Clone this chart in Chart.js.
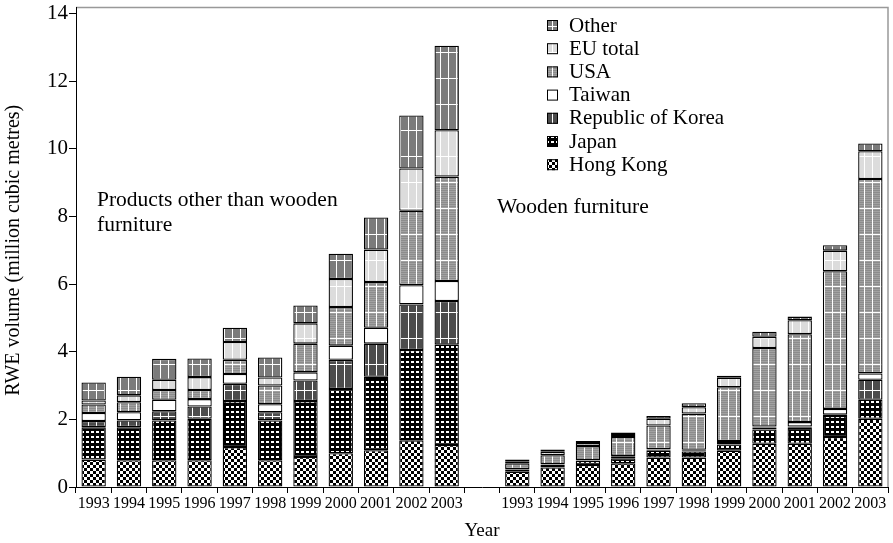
<!DOCTYPE html>
<html>
<head>
<meta charset="utf-8">
<script src="https://cdn.jsdelivr.net/npm/chart.js@4"></script>
<style>
  body { margin: 0; background: #fff; }
</style>
</head>
<body>
<canvas id="rwe" width="893" height="543"></canvas>
<script>
// years shown under each of the two groups
const years = ['1993', '1994', '1995', '1996', '1997', '1998', '1999', '2000', '2001', '2002', '2003'];

// products other than wooden furniture (million m3 RWE)
const hongKongOther = [0.81, 0.79, 0.79, 0.79, 1.18, 0.79, 0.89, 1.00, 1.09, 1.38, 1.24];
const japanOther    = [0.96, 0.98, 1.18, 1.23, 1.36, 1.18, 1.65, 1.90, 2.17, 2.67, 2.97];
const koreaOther    = [0.18, 0.20, 0.27, 0.36, 0.51, 0.24, 0.61, 0.86, 0.98, 1.35, 1.29];
const taiwanOther   = [0.24, 0.24, 0.34, 0.22, 0.29, 0.24, 0.24, 0.42, 0.47, 0.57, 0.59];
const usaOther      = [0.25, 0.30, 0.29, 0.27, 0.42, 0.55, 0.85, 1.14, 1.35, 2.20, 3.09];
const euOther       = [0.12, 0.20, 0.30, 0.38, 0.53, 0.24, 0.60, 0.83, 0.96, 1.25, 1.37];
const restOther     = [0.53, 0.55, 0.62, 0.55, 0.42, 0.59, 0.53, 0.75, 0.95, 1.57, 2.50];

// wooden furniture
const hongKongWood = [0.45, 0.58, 0.65, 0.70, 0.87, 0.87, 1.07, 1.28, 1.28, 1.48, 2.02];
const japanWood    = [0.05, 0.07, 0.12, 0.15, 0.20, 0.18, 0.19, 0.42, 0.47, 0.62, 0.56];
const koreaWood    = [0.02, 0.01, 0.01, 0.06, 0.04, 0.04, 0.07, 0.06, 0.04, 0.04, 0.59];
const taiwanWood   = [0.01, 0.01, 0.01, 0.01, 0.01, 0.01, 0.03, 0.03, 0.13, 0.17, 0.19];
const usaWood      = [0.17, 0.27, 0.42, 0.56, 0.70, 1.07, 1.59, 2.32, 2.60, 4.07, 5.75];
const euWood       = [0.06, 0.10, 0.09, 0.06, 0.20, 0.19, 0.28, 0.33, 0.41, 0.61, 0.82];
const restWood     = [0.05, 0.07, 0.06, 0.07, 0.08, 0.12, 0.06, 0.15, 0.11, 0.16, 0.23];

const yTicks = [0, 2, 4, 6, 8, 10, 12, 14];

const labels = [...years, '', ...years];
const join = (a, b) => [...a, null, ...b];

// fill patterns
function tile(w, h, draw) {
    const c = document.createElement('canvas');
    c.width = w; c.height = h;
    const g = c.getContext('2d');
    draw(g);
    return g.createPattern(c, 'repeat');
}
function grid(base, stripe) {
    return tile(8, 26, g => {
        g.fillStyle = base; g.fillRect(0, 0, 8, 26);
        if (stripe) {
            g.fillStyle = stripe;
            for (let y = 0; y < 26; y += 2) g.fillRect(0, y, 8, 1);
        }
        g.fillStyle = '#fff';
        g.fillRect(0, 0, 1, 26);
        g.fillRect(0, 0, 8, 1);
    });
}
const patOther = grid('#7b7b7b');
const patEU = grid('#dcdcdc');
const patUSA = grid('#a2a2a2', '#8c8c8c');
const patTaiwan = '#ffffff';
const patKorea = grid('#4c4c4c');
const patJapan = tile(5, 5, g => {
    g.fillStyle = '#000'; g.fillRect(0, 0, 5, 5);
    g.fillStyle = '#fff'; g.fillRect(1, 1, 3, 2);
});
const patHK = tile(6, 6, g => {
    g.fillStyle = '#fff'; g.fillRect(0, 0, 6, 6);
    g.fillStyle = '#000'; g.fillRect(0, 0, 3, 3); g.fillRect(3, 3, 3, 3);
});

function series(label, a, b, fill) {
    return {
        label: label,
        data: join(a, b),
        backgroundColor: fill,
        borderColor: '#000',
        borderWidth: 1.3,
        borderSkipped: false,
        barPercentage: 0.69,
        categoryPercentage: 1
    };
}

const datasets = [
    series('Hong Kong', hongKongOther, hongKongWood, patHK),
    series('Japan', japanOther, japanWood, patJapan),
    series('Republic of Korea', koreaOther, koreaWood, patKorea),
    series('Taiwan', taiwanOther, taiwanWood, patTaiwan),
    series('USA', usaOther, usaWood, patUSA),
    series('EU total', euOther, euWood, patEU),
    series('Other', restOther, restWood, patOther)
];

const serif = "'Liberation Serif', 'DejaVu Serif', serif";

// frame, legend and group captions
const extras = {
    id: 'extras',
    afterDraw(chart) {
        const ctx = chart.ctx;
        const a = chart.chartArea;
        ctx.save();
        ctx.strokeStyle = '#999';
        ctx.lineWidth = 1.5;
        ctx.beginPath();
        ctx.moveTo(a.left, 7.5);
        ctx.lineTo(a.right, 7.5);
        ctx.lineTo(a.right, a.bottom);
        ctx.stroke();
        ctx.strokeStyle = '#000';
        ctx.lineWidth = 1;
        ctx.beginPath();
        ctx.moveTo(a.left + 0.5, 7);
        ctx.lineTo(a.left + 0.5, a.top);
        ctx.stroke();

        ctx.font = '21px ' + serif;
        ctx.fillStyle = '#000';
        ctx.textBaseline = 'middle';
        const items = datasets.slice().reverse();
        items.forEach((d, i) => {
            const y = 25 + i * 23.2;
            ctx.fillStyle = d.backgroundColor;
            ctx.fillRect(547, y - 5, 11, 11);
            ctx.strokeStyle = '#000';
            ctx.lineWidth = 1;
            ctx.strokeRect(547.5, y - 4.5, 10, 10);
            ctx.fillStyle = '#000';
            ctx.fillText(d.label, 569, y + 1);
        });

        ctx.font = '21.5px ' + serif;
        ctx.fillText('Products other than wooden', 97, 200);
        ctx.fillText('furniture', 97, 225);
        ctx.fillText('Wooden furniture', 497, 207);
        ctx.restore();
    }
};

new Chart(document.getElementById('rwe'), {
    type: 'bar',
    data: { labels: labels, datasets: datasets },
    plugins: [extras],
    options: {
        responsive: false,
        devicePixelRatio: 1,
        animation: false,
        layout: { padding: { top: 12, right: 5, left: 0, bottom: 0 } },
        plugins: { legend: { display: false }, tooltip: { enabled: false } },
        scales: {
            x: {
                stacked: true,
                afterFit: s => { s.height = 56; },
                grid: { offset: true, drawOnChartArea: false, tickLength: 6, color: '#000' },
                border: { color: '#000', width: 1 },
                ticks: { color: '#000', font: { family: serif, size: 16 }, padding: 1, maxRotation: 0, autoSkip: false },
                title: { display: true, text: 'Year', color: '#000', font: { family: serif, size: 19 }, padding: { top: 0, bottom: 1 } }
            },
            y: {
                stacked: true,
                min: 0,
                max: 14,
                afterFit: s => { s.width = 76; },
                afterBuildTicks: s => { s.ticks = yTicks.map(v => ({ value: v })); },
                grid: { drawOnChartArea: false, tickLength: 7, color: '#000' },
                border: { color: '#000', width: 1 },
                ticks: { color: '#000', font: { family: serif, size: 21 }, padding: 1 },
                title: { display: true, text: 'RWE volume (million cubic metres)', color: '#000', font: { family: serif, size: 20 }, padding: { top: 2, bottom: 0 } }
            }
        }
    }
});
</script>
</body>
</html>
